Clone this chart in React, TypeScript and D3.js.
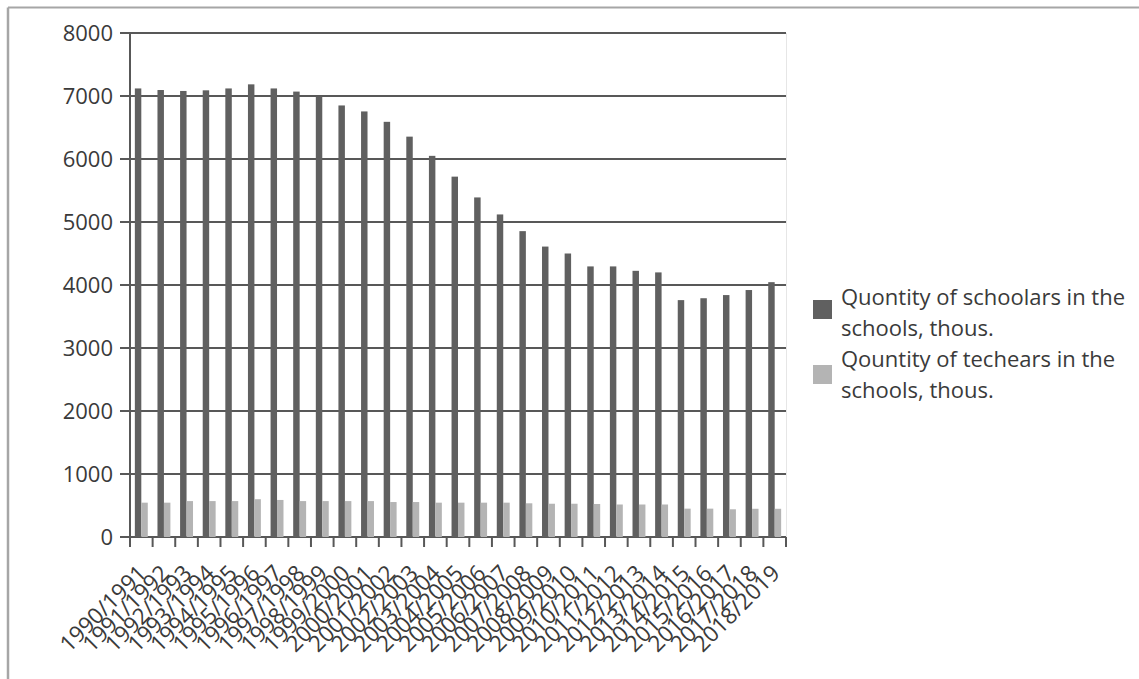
import React from "react";
import * as d3 from "d3";

// School years on the category axis
const years: string[] = [
  "1990/1991", "1991/1992", "1992/1993", "1993/1994", "1994/1995", "1995/1996",
  "1996/1997", "1997/1998", "1998/1999", "1999/2000", "2000/2001", "2001/2002",
  "2002/2003", "2003/2004", "2004/2005", "2005/2006", "2006/2007", "2007/2008",
  "2008/2009", "2009/2010", "2010/2011", "2011/2012", "2012/2013", "2013/2014",
  "2014/2015", "2015/2016", "2016/2017", "2017/2018", "2018/2019",
];

// Pupils in schools, thousands
const schoolars: number[] = [
  7120, 7095, 7080, 7090, 7120, 7185, 7120, 7070, 6990, 6850, 6755, 6590,
  6355, 6050, 5720, 5390, 5120, 4855, 4610, 4500, 4295, 4295, 4225, 4200,
  3760, 3790, 3840, 3920, 4045,
];

// Teachers in schools, thousands
const teachers: number[] = [
  545, 545, 570, 570, 570, 600, 588, 570, 570, 570, 570, 555,
  555, 545, 545, 545, 545, 535, 528, 528, 524, 516, 516, 516,
  450, 450, 440, 448, 448,
];

const seriesNames: string[] = [
  "Quontity of schoolars in the schools, thous.",
  "Qountity of techears in the schools, thous.",
];
const legendLines: string[][] = [
  ["Quontity of schoolars in the", "schools, thous."],
  ["Qountity of techears in the", "schools, thous."],
];
const yTicks: number[] = [0, 1000, 2000, 3000, 4000, 5000, 6000, 7000, 8000];

const W = 1139;
const H = 679;
const FONT = "'Open Sans', 'DejaVu Sans', sans-serif";
const COLORS = ["#606060", "#b4b4b4"];
const GRID = "#585858";

export default function App() {
  const left = 130;
  const right = 786;
  const top = 33;
  const bottom = 537;

  const x = d3.scaleBand<string>().domain(years).range([left, right]).paddingInner(0).paddingOuter(0);
  const y = d3.scaleLinear().domain([0, 8000]).range([bottom, top]);
  const sub = d3
    .scaleBand<number>()
    .domain([0, 1])
    .range([0, x.bandwidth()])
    .paddingInner(0)
    .paddingOuter(0.75);

  const series = [schoolars, teachers];

  return (
    <svg
      width={W}
      height={H}
      style={{ position: "absolute", left: 0, top: 0, background: "#fff" }}
      fontFamily={FONT}
    >
      {/* outer frame */}
      <line x1={8} x2={W} y1={7.5} y2={7.5} stroke="#a6a6a6" strokeWidth={2} />
      <line x1={8} x2={8} y1={7.5} y2={H} stroke="#a6a6a6" strokeWidth={2.5} />

      {/* plot area right edge */}
      <line x1={right + 0.5} x2={right + 0.5} y1={top} y2={bottom} stroke="#e6e6e6" strokeWidth={1} />

      {/* horizontal gridlines and y ticks */}
      {yTicks.map((t) => (
        <g key={t}>
          <line x1={left - 10} x2={right} y1={y(t)} y2={y(t)} stroke={GRID} strokeWidth={2} />
          <text
            x={113}
            y={y(t)}
            dy="0.36em"
            textAnchor="end"
            fontSize={22}
            fill="#3a3a3a"
          >
            {t}
          </text>
        </g>
      ))}

      {/* bars */}
      {series.map((vals, si) => (
        <g key={si} fill={COLORS[si]}>
          {vals.map((v, i) => (
            <rect
              key={years[i]}
              x={(x(years[i]) as number) + (sub(si) as number)}
              y={y(v)}
              width={sub.bandwidth()}
              height={bottom - y(v)}
            />
          ))}
        </g>
      ))}

      {/* y axis line */}
      <line x1={left} x2={left} y1={top} y2={bottom} stroke={GRID} strokeWidth={2} />

      {/* x axis ticks at category boundaries */}
      {years.concat(["__end"]).map((c, i) => {
        const xx = i < years.length ? (x(c) as number) : right;
        return <line key={c} x1={xx} x2={xx} y1={bottom} y2={bottom + 10} stroke={GRID} strokeWidth={2} />;
      })}

      {/* x labels */}
      {years.map((c) => {
        const cx = (x(c) as number) + x.bandwidth() / 2;
        const ax = cx + 1;
        const ay = 569;
        return (
          <text
            key={c}
            x={ax}
            y={ay}
            dy="0.35em"
            textAnchor="end"
            fontSize={22.5}
            fill="#3a3a3a"
            transform={`rotate(-45, ${ax}, ${ay})`}
          >
            {c}
          </text>
        );
      })}

      {/* legend */}
      {seriesNames.map((name, si) => {
        const baseY = si === 0 ? 305 : 367;
        return (
          <g key={name}>
            <rect x={813} y={baseY - 5 + (si === 0 ? 0 : 3)} width={19} height={19} fill={COLORS[si]} />
            {legendLines[si].map((ln, li) => (
              <text key={li} x={841} y={baseY + li * 31} fontSize={22} fill="#3a3a3a">
                {ln}
              </text>
            ))}
          </g>
        );
      })}
    </svg>
  );
}
